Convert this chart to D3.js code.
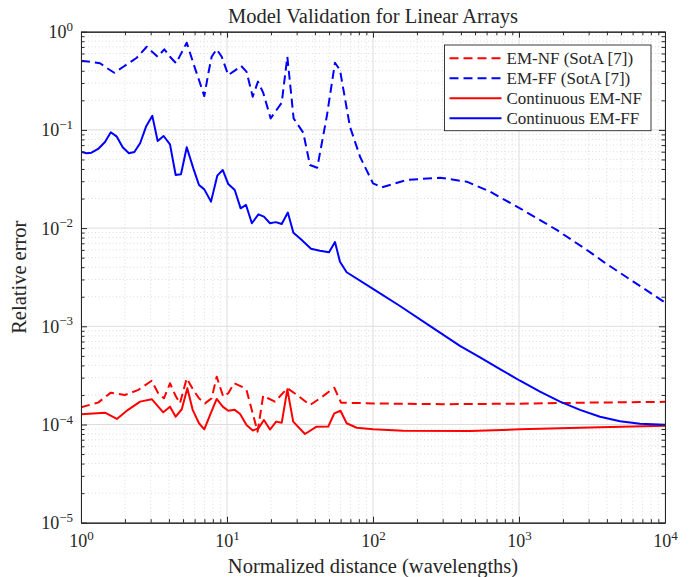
<!DOCTYPE html>
<html>
<head>
<meta charset="utf-8">
<script src="https://cdn.jsdelivr.net/npm/d3@7"></script>
<style>
  body { margin: 0; background: white; }
  svg { display: block; font-family: 'Liberation Serif', 'Times New Roman', serif; }
</style>
</head>
<body>
<svg width="691" height="577"></svg>
<script>
// === Data

const X_TICKS = [1, 10, 100, 1000, 10000];
const X_TICK_EXPONENTS = ['0', '1', '2', '3', '4'];
const Y_TICKS = [1e-5, 1e-4, 1e-3, 1e-2, 1e-1, 1];
const Y_TICK_EXPONENTS = ['\u22125', '\u22124', '\u22123', '\u22122', '\u22121', '0'];

const nfSotaX = [1.0, 1.31, 1.60, 2.00, 2.47, 3.05, 3.38, 3.70, 4.07, 4.45, 4.76, 5.30, 5.88, 6.43, 7.07, 7.85, 8.50, 9.43, 10.2, 11.2,
  12.6, 13.6, 15.1, 16.2, 17.7, 19.1, 21.3, 25.9, 30.1, 37.0, 43.4, 54.3, 60.4, 100, 300, 1000, 3000, 10000];
const nfSotaY = [1.50e-4, 1.67e-4, 2.11e-4, 2.00e-4, 2.25e-4, 2.79e-4, 2.08e-4, 1.85e-4, 2.63e-4, 1.95e-4, 1.64e-4, 2.95e-4, 2.25e-4,
  1.85e-4, 1.64e-4, 1.85e-4, 3.07e-4, 1.92e-4, 2.08e-4, 2.63e-4, 2.43e-4, 2.25e-4, 1.25e-4, 8.45e-5, 1.97e-4, 1.85e-4, 1.71e-4,
  2.34e-4, 2.00e-4, 1.58e-4, 1.85e-4, 2.37e-4, 1.67e-4, 1.64e-4, 1.61e-4, 1.63e-4, 1.67e-4, 1.70e-4];

const ffSotaX = [1.0, 1.15, 1.35, 1.54, 1.69, 1.95, 2.41, 2.82, 3.35, 3.72, 4.07, 4.48, 5.30, 5.88, 6.43, 6.99, 7.45, 7.85, 8.50, 9.20,
  10.2, 11.3, 12.5, 13.6, 15.0, 16.3, 17.7, 19.9, 23.7, 25.9, 28.6, 33.3, 37.0, 41.5, 48.2, 54.9, 59.4, 69.5, 81.5, 100,
  115, 170, 288, 438, 633, 1016, 1812, 3063, 3777, 6067, 10000];
const ffSotaY = [0.507, 0.495, 0.477, 0.417, 0.382, 0.440, 0.543, 0.703, 0.556, 0.662, 0.556, 0.477, 0.773, 0.477, 0.322, 0.221, 0.377,
  0.556, 0.662, 0.556, 0.362, 0.401, 0.448, 0.392, 0.218, 0.310, 0.239, 0.131, 0.189, 0.556, 0.131, 0.0936, 0.0439, 0.0412, 0.136,
  0.483, 0.407, 0.108, 0.0533, 0.0286, 0.0260, 0.0309, 0.0326, 0.0297, 0.0235, 0.0159, 0.00958, 0.0057, 0.00455, 0.00285, 0.00175];

const nfContX = [1.0, 1.46, 1.76, 2.10, 2.54, 3.05, 3.66, 4.07, 4.45, 4.90, 5.35, 5.82, 6.43, 6.99, 7.71, 8.50, 9.35, 10.2, 11.3, 12.3,
  13.6, 15.0, 16.4, 17.9, 19.7, 21.7, 23.7, 25.9, 28.4, 34.2, 41.1, 49.4, 54.3, 59.9, 66.0, 77.3, 100, 161, 462, 1016, 3589, 10000];
const nfContY = [1.27e-4, 1.32e-4, 1.14e-4, 1.41e-4, 1.71e-4, 1.81e-4, 1.33e-4, 1.52e-4, 1.20e-4, 1.43e-4, 2.34e-4, 1.41e-4, 1.03e-4,
  8.93e-5, 1.28e-4, 1.82e-4, 1.52e-4, 1.38e-4, 1.41e-4, 1.28e-4, 9.89e-5, 8.69e-5, 9.14e-5, 1.11e-4, 8.89e-5, 1.07e-4, 1.04e-4,
  2.28e-4, 1.07e-4, 8.00e-5, 9.50e-5, 9.55e-5, 1.30e-4, 1.38e-4, 1.03e-4, 9.27e-5, 8.93e-5, 8.65e-5, 8.59e-5, 8.93e-5, 9.40e-5, 9.72e-5];

const ffContX = [1.0, 1.09, 1.18, 1.31, 1.46, 1.60, 1.76, 1.93, 2.13, 2.32, 2.54, 2.79, 3.08, 3.35, 3.68, 4.07, 4.45, 4.84, 5.30, 5.88,
  6.43, 6.99, 7.77, 8.58, 9.35, 10.2, 11.3, 12.4, 13.5, 14.8, 16.4, 17.9, 19.7, 21.6, 23.7, 26.1, 28.5, 32.1, 37.6, 43.3,
  50.0, 54.9, 59.4, 66.0, 100, 153, 245, 394, 541, 741, 1016, 1393, 1910, 2618, 3589, 4920, 6745, 10000];
const ffContY = [0.060, 0.0578, 0.0586, 0.064, 0.0753, 0.0946, 0.0853, 0.0665, 0.0578, 0.0596, 0.0731, 0.108, 0.139, 0.0771, 0.0867,
  0.0713, 0.0347, 0.0353, 0.0665, 0.0406, 0.0275, 0.0248, 0.0186, 0.0342, 0.0391, 0.0281, 0.0244, 0.0159, 0.0172, 0.0112, 0.0138,
  0.0131, 0.0112, 0.0115, 0.0110, 0.0144, 0.00898, 0.00769, 0.00617, 0.00589, 0.00567, 0.00722, 0.00455, 0.00355, 0.00240,
  0.00161, 0.00101, 6.31e-4, 4.83e-4, 3.67e-4, 2.79e-4, 2.16e-4, 1.71e-4, 1.41e-4, 1.20e-4, 1.08e-4, 1.02e-4, 9.95e-5];

const SERIES_NAMES = ['EM-NF (SotA [7])', 'EM-FF (SotA [7])', 'Continuous EM-NF', 'Continuous EM-FF'];
const SERIES_COLORS = ['#ff0000', '#0000ff', '#ff0000', '#0000ff'];
const SERIES_DASHED = [true, true, false, false];

// === Config

const PLOT = { left: 81, right: 665, top: 31.7, bottom: 522.7 };
const AXIS_COLOR = '#262626';
const LINE_WIDTH = 2;
const DASH = '9,5';

function main() {
  const svg = d3.select('svg');
  const x = d3.scaleLog().domain([1, 1e4]).range([PLOT.left, PLOT.right]);
  const y = d3.scaleLog().domain([1e-5, 1]).range([PLOT.bottom, PLOT.top]);

  const minorX = [];
  X_TICKS.slice(0, -1).forEach(t => { for (let k = 2; k <= 9; k++) minorX.push(t * k); });
  const minorY = [];
  Y_TICKS.slice(0, -1).forEach(t => { for (let k = 2; k <= 9; k++) minorY.push(t * k); });

  // grid
  const grid = svg.append('g').attr('class', 'grid');
  grid.selectAll('line.mx').data(minorX).enter().append('line')
    .attr('x1', d => x(d)).attr('x2', d => x(d))
    .attr('y1', PLOT.top).attr('y2', PLOT.bottom)
    .attr('stroke', '#cfcfcf').attr('stroke-width', 0.7).attr('stroke-dasharray', '1,2.5');
  grid.selectAll('line.my').data(minorY).enter().append('line')
    .attr('x1', PLOT.left).attr('x2', PLOT.right)
    .attr('y1', d => y(d)).attr('y2', d => y(d))
    .attr('stroke', '#cfcfcf').attr('stroke-width', 0.7).attr('stroke-dasharray', '1,2.5');
  grid.selectAll('line.gx').data(X_TICKS).enter().append('line')
    .attr('x1', d => x(d)).attr('x2', d => x(d))
    .attr('y1', PLOT.top).attr('y2', PLOT.bottom)
    .attr('stroke', '#d9d9d9').attr('stroke-width', 0.9);
  grid.selectAll('line.gy').data(Y_TICKS).enter().append('line')
    .attr('x1', PLOT.left).attr('x2', PLOT.right)
    .attr('y1', d => y(d)).attr('y2', d => y(d))
    .attr('stroke', '#d9d9d9').attr('stroke-width', 0.9);

  // data lines
  svg.append('clipPath').attr('id', 'clip').append('rect')
    .attr('x', PLOT.left).attr('y', PLOT.top)
    .attr('width', PLOT.right - PLOT.left).attr('height', PLOT.bottom - PLOT.top);

  const seriesX = [nfSotaX, ffSotaX, nfContX, ffContX];
  const seriesY = [nfSotaY, ffSotaY, nfContY, ffContY];
  const line = d3.line().x(d => x(d[0])).y(d => y(d[1]));
  const lines = svg.append('g').attr('clip-path', 'url(#clip)');
  SERIES_NAMES.forEach(function(name, i) {
    const pts = seriesX[i].map((v, j) => [v, seriesY[i][j]]);
    lines.append('path')
      .attr('d', line(pts))
      .attr('fill', 'none')
      .attr('stroke', SERIES_COLORS[i])
      .attr('stroke-width', LINE_WIDTH)
      .attr('stroke-linejoin', 'round')
      .attr('stroke-dasharray', SERIES_DASHED[i] ? DASH : null);
  });

  // axes: ticks point inward on all four sides
  const fmtNone = () => '';
  const addAxis = (axis, tx, ty) => {
    const g = svg.append('g').attr('transform', `translate(${tx},${ty})`).call(axis);
    g.select('.domain').attr('stroke', AXIS_COLOR).attr('stroke-width', 1);
    g.selectAll('.tick line').attr('stroke', AXIS_COLOR).attr('stroke-width', 1);
    return g;
  };
  addAxis(d3.axisBottom(x).tickValues(minorX).tickSize(-3.5).tickSizeOuter(0).tickFormat(fmtNone), 0, PLOT.bottom);
  addAxis(d3.axisTop(x).tickValues(minorX).tickSize(-3.5).tickSizeOuter(0).tickFormat(fmtNone), 0, PLOT.top);
  addAxis(d3.axisLeft(y).tickValues(minorY).tickSize(-3.5).tickSizeOuter(0).tickFormat(fmtNone), PLOT.left, 0);
  addAxis(d3.axisRight(y).tickValues(minorY).tickSize(-3.5).tickSizeOuter(0).tickFormat(fmtNone), PLOT.right, 0);
  addAxis(d3.axisTop(x).tickValues(X_TICKS).tickSize(-6).tickSizeOuter(0).tickFormat(fmtNone), 0, PLOT.top);
  addAxis(d3.axisRight(y).tickValues(Y_TICKS).tickSize(-6).tickSizeOuter(0).tickFormat(fmtNone), PLOT.right, 0);

  const xAxisG = addAxis(d3.axisBottom(x).tickValues(X_TICKS).tickSize(-6).tickSizeOuter(0).tickPadding(14), 0, PLOT.bottom);
  xAxisG.selectAll('.tick text').each(function(d, i) {
    const t = d3.select(this).text(null)
      .attr('fill', AXIS_COLOR).attr('font-size', 18).attr('font-family', 'Liberation Serif')
      .attr('y', 24.5).attr('dy', null);
    t.append('tspan').text('10');
    t.append('tspan').attr('dy', -7.5).attr('font-size', 13).text(X_TICK_EXPONENTS[i]);
  });

  const yAxisG = addAxis(d3.axisLeft(y).tickValues(Y_TICKS).tickSize(-6).tickSizeOuter(0), PLOT.left, 0);
  yAxisG.selectAll('.tick text').each(function(d, i) {
    const t = d3.select(this).text(null)
      .attr('fill', AXIS_COLOR).attr('font-size', 18).attr('font-family', 'Liberation Serif')
      .attr('x', -8).attr('dy', null).attr('y', 6).attr('text-anchor', 'end');
    t.append('tspan').text('10');
    t.append('tspan').attr('dy', -7.5).attr('font-size', 13).text(Y_TICK_EXPONENTS[i]);
  });

  // labels
  svg.append('text')
    .attr('x', (PLOT.left + PLOT.right) / 2).attr('y', 22.5)
    .attr('text-anchor', 'middle').attr('font-size', 20.5).attr('fill', AXIS_COLOR)
    .text('Model Validation for Linear Arrays');
  svg.append('text')
    .attr('x', (PLOT.left + PLOT.right) / 2).attr('y', 573)
    .attr('text-anchor', 'middle').attr('font-size', 20.5).attr('fill', AXIS_COLOR)
    .text('Normalized distance (wavelengths)');
  svg.append('text')
    .attr('transform', `translate(26,${(PLOT.top + PLOT.bottom) / 2}) rotate(-90)`)
    .attr('text-anchor', 'middle').attr('font-size', 20.5).attr('fill', AXIS_COLOR)
    .text('Relative error');

  // legend
  const legend = svg.append('g').attr('transform', 'translate(444.5,45)');
  legend.append('rect')
    .attr('width', 206.5).attr('height', 85.7)
    .attr('fill', 'white').attr('stroke', AXIS_COLOR).attr('stroke-width', 0.9);
  SERIES_NAMES.forEach(function(name, i) {
    const ly = 13.3 + i * 20;
    legend.append('line')
      .attr('x1', 5).attr('x2', 57).attr('y1', ly).attr('y2', ly)
      .attr('stroke', SERIES_COLORS[i]).attr('stroke-width', LINE_WIDTH)
      .attr('stroke-dasharray', SERIES_DASHED[i] ? DASH : null);
    legend.append('text')
      .attr('x', 62).attr('y', ly + 5.5)
      .attr('font-size', 17).attr('fill', AXIS_COLOR)
      .text(name);
  });
}

main();
</script>
</body>
</html>
